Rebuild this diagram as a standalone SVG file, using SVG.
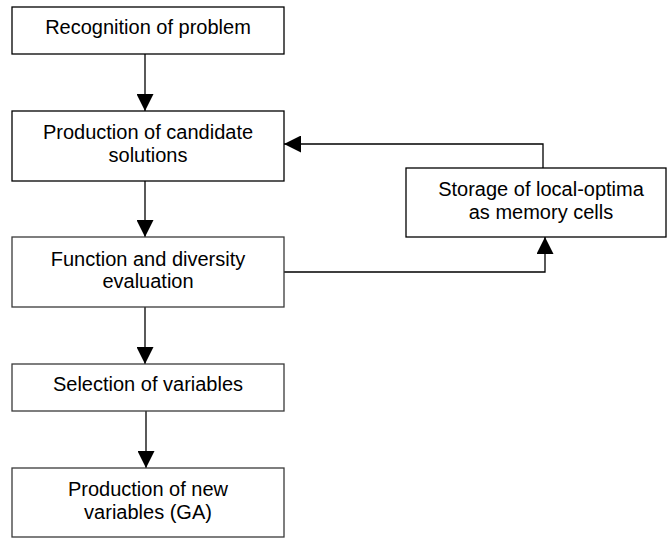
<svg xmlns="http://www.w3.org/2000/svg" width="667" height="538" viewBox="0 0 667 538">
  <style>
    .box { fill: #ffffff; stroke: #000000; stroke-width: 1.3; }
    .box.soft { stroke: #3a3a3a; }
    .label { font-family: "Liberation Sans", Arial, sans-serif; font-size: 20px; fill: #000000; text-anchor: middle; }
    .wire { fill: none; stroke: #000000; stroke-width: 1.3; marker-end: url(#head); }
  </style>
  <defs>
    <marker id="head" markerUnits="userSpaceOnUse" markerWidth="17" markerHeight="17" refX="17" refY="8.5" orient="auto">
      <path d="M0,0 L17,8.5 L0,17 Z" fill="#000000"/>
    </marker>
  </defs>

  <rect width="667" height="538" fill="#ffffff"/>

  <g id="connectors">
    <path class="wire" d="M145,54 V111"/>
    <path class="wire" d="M145,181 V237"/>
    <path class="wire" d="M145,307 V364"/>
    <path class="wire" d="M146,411 V468"/>
    <path class="wire" d="M543,168 V144 H284"/>
    <path class="wire" d="M284,272 H545 V237"/>
  </g>

  <g id="recognition">
    <rect class="box" x="12" y="7" width="272" height="47"/>
    <text class="label" x="148" y="34">Recognition of problem</text>
  </g>

  <g id="production-candidates">
    <rect class="box" x="12" y="111" width="272" height="70"/>
    <text class="label" x="148" y="139">Production of candidate</text>
    <text class="label" x="148" y="161.5">solutions</text>
  </g>

  <g id="evaluation">
    <rect class="box soft" x="12" y="237" width="272" height="70"/>
    <text class="label" x="148" y="265.5">Function and diversity</text>
    <text class="label" x="148" y="288">evaluation</text>
  </g>

  <g id="selection">
    <rect class="box soft" x="12" y="364" width="272" height="47"/>
    <text class="label" x="148" y="391">Selection of variables</text>
  </g>

  <g id="production-new">
    <rect class="box soft" x="12" y="468" width="272" height="69"/>
    <text class="label" x="148" y="496">Production of new</text>
    <text class="label" x="148" y="518.5">variables (GA)</text>
  </g>

  <g id="memory-storage">
    <rect class="box" x="406" y="168" width="260" height="69"/>
    <text class="label" x="541" y="196">Storage of local-optima</text>
    <text class="label" x="541" y="218.5">as memory cells</text>
  </g>
</svg>
